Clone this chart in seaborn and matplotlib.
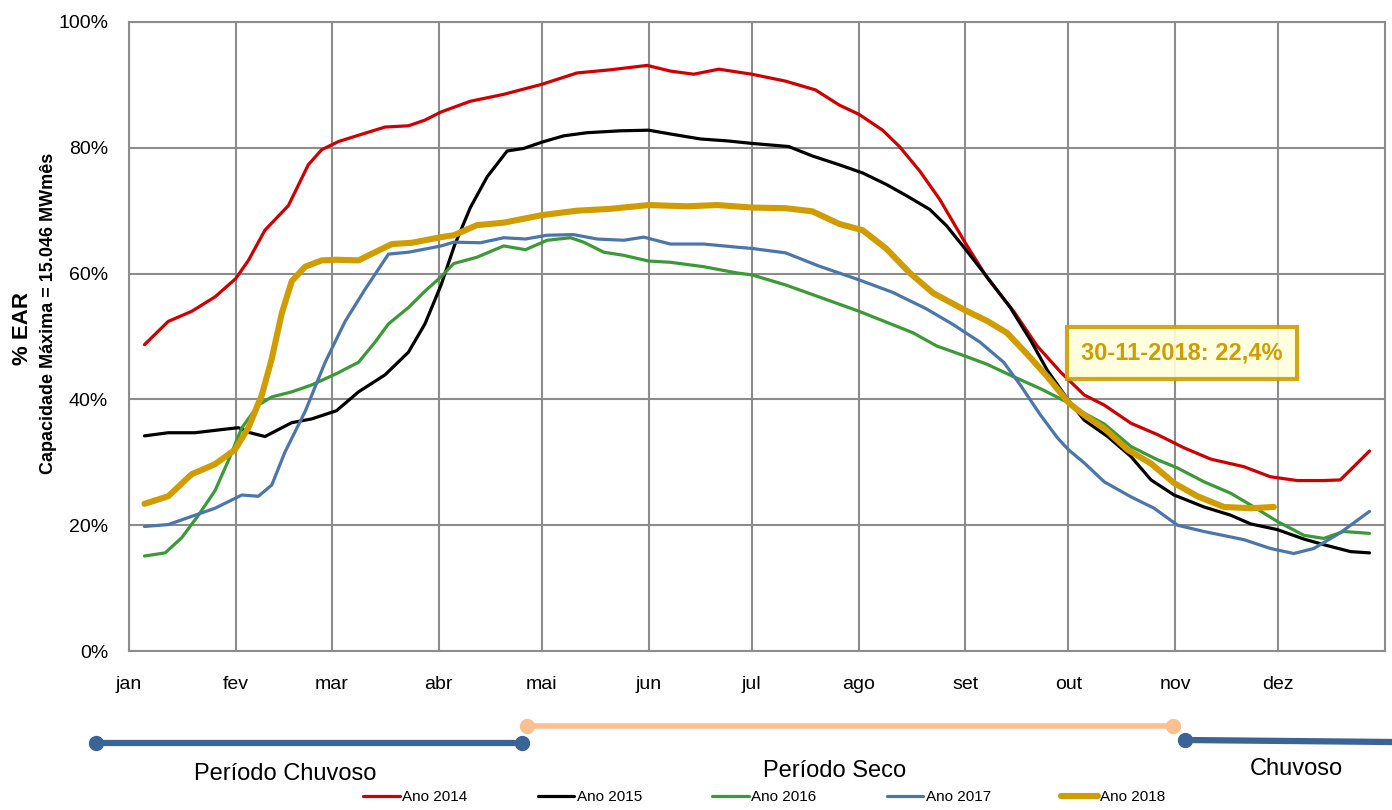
import numpy as np
import pandas as pd
import matplotlib
matplotlib.use("Agg")
import matplotlib.pyplot as plt
import seaborn as sns
from matplotlib.lines import Line2D

# ---------------- data ----------------
month_labels = ["jan", "fev", "mar", "abr", "mai", "jun", "jul", "ago", "set", "out", "nov", "dez"]
month_starts = [0, 31, 59, 90, 120, 151, 181, 212, 243, 273, 304, 334]

days_2014 = [4.5, 11.4, 18.2, 25, 31, 34.7, 39.5, 46.3, 52.1, 56, 60.9, 66.7, 74.4, 81.2, 86, 90.7, 99.2, 108.9, 120,
             130.2, 139.9, 150.6, 157.3, 164.1, 171.4, 181, 190.8, 199.5, 206.4, 212.2, 219, 223.9, 229.8, 235.6,
             242.9, 249.3, 257.1, 263.9, 270.8, 277.6, 283.4, 291.2, 298.9, 306.6, 314.4, 324, 331.7, 339.5, 347.2,
             352, 355.9, 360.5]
ear_2014 = [48.7, 52.4, 54.0, 56.3, 59.2, 62.1, 66.9, 70.8, 77.3, 79.7, 81.0, 82.0, 83.3, 83.5, 84.4, 85.7, 87.4, 88.5,
            90.1, 91.9, 92.4, 93.1, 92.2, 91.7, 92.5, 91.7, 90.6, 89.2, 86.8, 85.3, 82.8, 80.2, 76.3, 71.8, 65.0, 59.4,
            54.0, 48.5, 44.3, 40.7, 39.1, 36.2, 34.4, 32.3, 30.5, 29.3, 27.7, 27.1, 27.1, 27.2, 29.3, 31.8]

days_2015 = [4.5, 11.4, 19.2, 26.9, 31.8, 35.2, 39.5, 47.3, 53.1, 60.3, 66.7, 74.4, 81.2, 86, 90.7, 94.6, 99.2, 104.1,
             109.9, 114.7, 120, 126.3, 133.1, 142.8, 151, 157.3, 166.1, 173.8, 181, 191.7, 198.6, 206.4, 213.2, 220,
             225.9, 232.7, 237.6, 242.9, 249.3, 256.1, 262, 266.9, 273.2, 277.6, 284.4, 291.2, 297, 303.7, 312.4,
             320.1, 326, 333.7, 341.4, 347.2, 355, 360.5]
ear_2015 = [34.2, 34.7, 34.7, 35.2, 35.5, 34.7, 34.1, 36.3, 36.9, 38.2, 41.2, 43.9, 47.5, 52.0, 58.2, 64.5, 70.5, 75.4,
            79.5, 79.9, 80.9, 81.9, 82.4, 82.7, 82.8, 82.2, 81.4, 81.1, 80.7, 80.2, 78.7, 77.3, 76.0, 74.2, 72.4, 70.2,
            67.6, 64.0, 59.5, 54.6, 49.4, 44.6, 39.7, 36.7, 34.1, 30.9, 27.2, 24.8, 22.9, 21.6, 20.2, 19.3, 17.8, 16.9,
            15.8, 15.6]

days_2016 = [4.5, 10.5, 15.3, 20.2, 25, 28.9, 32.8, 37.6, 41.5, 47.3, 53.1, 60.3, 66.7, 71.5, 75.4, 81.2, 86, 90.7,
             94.4, 101.1, 108.9, 115.2, 121.5, 128.3, 132.1, 138, 143.8, 151, 157.3, 167, 176.7, 181, 190.8, 200.5,
             212.2, 220, 227.8, 234.7, 242.9, 249.3, 257.1, 264.9, 273.2, 277.6, 283.4, 291.2, 298.9, 304.7, 312.4,
             320.1, 326, 333.7, 341.4, 347.2, 353, 360.5]
ear_2016 = [15.1, 15.6, 18.0, 21.6, 25.5, 30.3, 35.5, 39.1, 40.4, 41.2, 42.3, 44.1, 45.9, 49.1, 52.0, 54.6, 57.2, 59.5,
            61.6, 62.6, 64.4, 63.8, 65.3, 65.7, 65.0, 63.4, 62.9, 62.0, 61.8, 61.1, 60.1, 59.8, 58.2, 56.3, 54.0, 52.3,
            50.6, 48.5, 46.9, 45.6, 43.6, 41.7, 39.4, 37.8, 36.1, 32.5, 30.4, 29.1, 26.9, 25.1, 23.2, 20.6, 18.4, 17.9,
            19.0, 18.7]

days_2017 = [4.5, 11.4, 18.2, 25, 32.8, 37.6, 41.5, 45.3, 51.2, 57, 62.8, 68.6, 75.4, 81.2, 86, 90.7, 94.4, 102.1,
             108.9, 115.2, 121.5, 129.2, 136, 143.8, 149.6, 157.3, 167, 176.7, 181, 190.8, 200.5, 212.2, 222, 231.7,
             239.5, 247.3, 254.2, 259, 264.9, 269.8, 273, 277.6, 283.4, 291.2, 297.9, 304.7, 312.4, 324, 331.7, 338.5,
             344.3, 352, 360.5]
ear_2017 = [19.8, 20.1, 21.4, 22.7, 24.8, 24.6, 26.4, 31.6, 38.1, 45.9, 52.4, 57.5, 63.1, 63.4, 63.9, 64.4, 65.0, 64.9,
            65.7, 65.5, 66.1, 66.2, 65.5, 65.3, 65.8, 64.7, 64.7, 64.2, 64.0, 63.3, 61.2, 59.0, 57.0, 54.4, 51.9, 49.1,
            45.9, 42.3, 37.5, 33.9, 32.0, 29.9, 26.9, 24.5, 22.7, 20.0, 19.0, 17.7, 16.3, 15.5, 16.3, 18.8, 22.2]

days_2018 = [4.5, 11.4, 18.2, 25, 30.8, 34.7, 38.6, 41.5, 44.4, 47.3, 51.2, 56, 60.3, 66.7, 71.5, 76.4, 82.2, 90.7,
             94.4, 101.1, 108.9, 120, 130.2, 139.9, 151, 162.2, 170.9, 181, 190.8, 198.6, 206.4, 213.2, 220, 226.9,
             233.7, 242.9, 249.3, 255.1, 261, 266.9, 273.2, 277.6, 283.4, 290.2, 297, 303.7, 310.5, 318.2, 326, 332.7]
ear_2018 = [23.4, 24.6, 28.1, 29.7, 32.0, 35.5, 40.7, 46.5, 53.7, 58.8, 61.1, 62.1, 62.2, 62.1, 63.4, 64.7, 64.9, 65.8,
            66.1, 67.7, 68.1, 69.3, 70.0, 70.3, 70.9, 70.7, 70.9, 70.5, 70.4, 69.9, 67.9, 66.9, 64.0, 60.1, 56.9, 54.2,
            52.5, 50.6, 47.2, 43.6, 39.4, 37.5, 35.4, 32.0, 29.8, 26.7, 24.6, 22.9, 22.7, 22.9]

series_names = ["Ano 2014", "Ano 2015", "Ano 2016", "Ano 2017", "Ano 2018"]
series_days = [days_2014, days_2015, days_2016, days_2017, days_2018]
series_vals = [ear_2014, ear_2015, ear_2016, ear_2017, ear_2018]
series_colors = ["#D00000", "#000000", "#3A9A35", "#4A76AC", "#D09C00"]
series_widths = [2.3, 2.3, 2.3, 2.3, 4.4]

annot_text = "30-11-2018: 22,4%"
period_labels = ["Período Chuvoso", "Período Seco", "Chuvoso"]

# ---------------- style ----------------
sns.set_style("white")
plt.rcParams["font.family"] = ["Liberation Sans", "DejaVu Sans"]
plt.rcParams["text.color"] = "black"

fig = plt.figure(figsize=(13.92, 8.1), dpi=100)
ax = fig.add_axes([129 / 1392, 1 - 651 / 810, (1385 - 129) / 1392, (651 - 22) / 810])

frames = []
for name, d, v in zip(series_names, series_days, series_vals):
    frames.append(pd.DataFrame({"dia": d, "EAR": v, "Ano": name}))
df = pd.concat(frames, ignore_index=True)

for name, col, lw in zip(series_names, series_colors, series_widths):
    sub = df[df["Ano"] == name]
    sns.lineplot(data=sub, x="dia", y="EAR", color=col, lw=lw, ax=ax, label=name,
                 solid_joinstyle="round", solid_capstyle="round", sort=False)

ax.set_xlim(0, 365)
ax.set_ylim(0, 100)
ax.set_xticks(month_starts)
ax.set_xticklabels(month_labels)
ax.set_yticks(range(0, 101, 20))
ax.set_yticklabels([f"{t}%" for t in range(0, 101, 20)])
ax.set_xlabel("")
ax.set_ylabel("")
ax.grid(True, color="#8C8C8C", lw=1.5)
ax.set_axisbelow(True)
for s in ax.spines.values():
    s.set_color("#8C8C8C")
    s.set_linewidth(1.5)
ax.tick_params(axis="both", which="both", direction="out", length=6, width=1.5, color="#8C8C8C",
               labelsize=14, pad=9, labelcolor="#000000")
ax.tick_params(axis="x", pad=12)

leg = ax.get_legend()
handles, labels = ax.get_legend_handles_labels()
if leg is not None:
    leg.remove()
fig.legend(handles, labels, loc="center", bbox_to_anchor=(0.549, 0.016), ncol=5, frameon=False,
           fontsize=11, handlelength=2.4, handletextpad=0.15, columnspacing=4.6)

# annotation
ax.text(306, 47.4, annot_text, color="#D09C00", fontsize=17, fontweight="bold", ha="center", va="center",
        zorder=10,
        bbox=dict(boxstyle="square,pad=0.6", facecolor="#FFFFDD", edgecolor="#D09C00", lw=3, alpha=0.9))

# y-axis labels
fig.text(23 / 1392, 1 - 328 / 810, "% EAR", rotation=90, ha="center", va="center", fontsize=16,
         fontweight="bold")
fig.text(49 / 1392, 1 - 313 / 810, "Capacidade Máxima = 15.046 MWmês", rotation=90, ha="center", va="center",
         fontsize=13, fontweight="bold")

# period timeline (decoration)
blue_p = "#3A6495"
peach = "#FAC090"
fig.add_artist(Line2D([96 / 1392, 522 / 1392], [1 - 743 / 810, 1 - 743 / 810], color=blue_p, lw=4.5,
                      marker="o", markersize=10, transform=fig.transFigure))
fig.add_artist(Line2D([527 / 1392, 1173 / 1392], [1 - 726 / 810, 1 - 726 / 810], color=peach, lw=4,
                      marker="o", markersize=10, transform=fig.transFigure))
fig.add_artist(Line2D([1185 / 1392], [1 - 740 / 810], color=blue_p, lw=0,
                      marker="o", markersize=10, transform=fig.transFigure))
fig.add_artist(Line2D([1185 / 1392, 1392 / 1392], [1 - 740 / 810, 1 - 742 / 810], color=blue_p, lw=4.5,
                      transform=fig.transFigure))

fig.text(285 / 1392, 1 - 774 / 810, period_labels[0], ha="center", va="center", fontsize=17)
fig.text(835 / 1392, 1 - 771 / 810, period_labels[1], ha="center", va="center", fontsize=17)
fig.text(1296 / 1392, 1 - 769 / 810, period_labels[2], ha="center", va="center", fontsize=17)

fig.savefig("out.png", dpi=100)
